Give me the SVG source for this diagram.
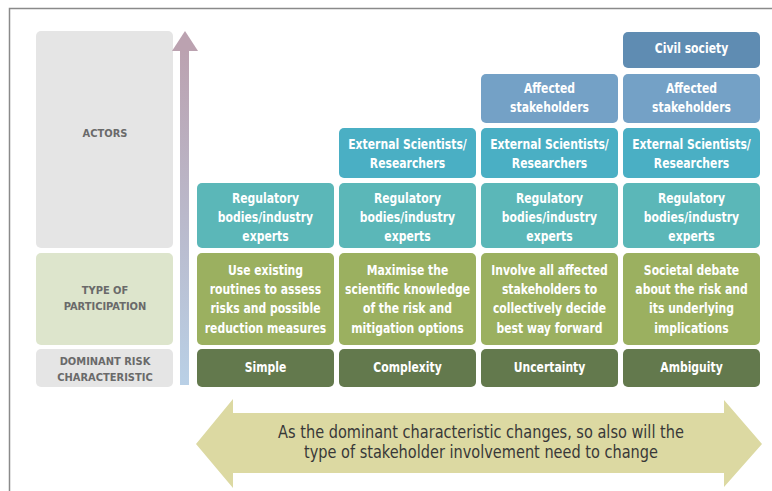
<svg xmlns="http://www.w3.org/2000/svg" width="772" height="491" viewBox="0 0 772 491">
<defs>
<linearGradient id="vg" x1="0" y1="0" x2="0" y2="1">
<stop offset="0" stop-color="#bba2b0"/>
<stop offset="1" stop-color="#b9d0e6"/>
</linearGradient>
<style>
.bt{font-family:"DejaVu Sans Condensed","Liberation Sans",sans-serif;font-weight:bold;font-size:14px;fill:#ffffff;text-anchor:middle}
.lt{font-family:"DejaVu Sans Condensed","Liberation Sans",sans-serif;font-weight:bold;font-size:11px;fill:#6a6a6a;text-anchor:middle}
.at{font-family:"DejaVu Sans Condensed","Liberation Sans",sans-serif;font-size:17px;fill:#383838;text-anchor:middle}
.reg{fill:#5bb7b8}
.ext{fill:#4aafc4}
.aff{fill:#74a1c6}
.civ{fill:#5f8cb2}
.typ{fill:#9bb060}
.dom{fill:#63794d}
</style>
</defs>
<rect width="772" height="491" fill="#ffffff"/>
<path d="M9.5 491 V8.5 H772" fill="none" stroke="#8a8a8a" stroke-width="1.5"/>

<g id="label-actors">
<rect x="36" y="31" width="137" height="217" rx="5" fill="#e5e5e5"/>
<text class="lt" x="105" y="137">ACTORS</text>
</g>
<g id="label-type">
<rect x="36" y="253" width="137" height="92" rx="5" fill="#dde5cc"/>
<text class="lt" x="105" y="294">TYPE OF</text>
<text class="lt" x="105" y="310">PARTICIPATION</text>
</g>
<g id="label-dominant">
<rect x="36" y="349" width="137" height="38" rx="5" fill="#e5e5e5"/>
<text class="lt" x="105" y="365">DOMINANT RISK</text>
<text class="lt" x="105" y="381">CHARACTERISTIC</text>
</g>

<g id="connectors">
<rect x="180" y="50" width="9" height="335" fill="url(#vg)"/>
<polygon points="172,51 185,31 198,51" fill="#bba2b0"/>
<polygon id="double-arrow" points="196,444 233,399 233,413 724,413 724,400 762,444 724,487 724,473 233,473 233,488" fill="#dcd9a2"/>
</g>

<g id="col1-regulatory"><rect class="reg" x="197" y="183" width="137" height="65" rx="5"/><g transform="translate(265.5 0) scale(0.86 1)"><text class="bt" x="0" y="203">Regulatory</text><text class="bt" x="0" y="222">bodies/industry</text><text class="bt" x="0" y="241">experts</text></g></g>
<g id="col1-type"><rect class="typ" x="197" y="253" width="137" height="92" rx="5"/><g transform="translate(265.5 0) scale(0.86 1)"><text class="bt" x="0" y="275">Use existing</text><text class="bt" x="0" y="294">routines to assess</text><text class="bt" x="0" y="313">risks and possible</text><text class="bt" x="0" y="333">reduction measures</text></g></g>
<g id="col1-dominant"><rect class="dom" x="197" y="349" width="137" height="38" rx="5"/><g transform="translate(265.5 0) scale(0.86 1)"><text class="bt" x="0" y="372">Simple</text></g></g>

<g id="col2-external"><rect class="ext" x="339" y="128" width="137" height="50" rx="5"/><g transform="translate(407.5 0) scale(0.86 1)"><text class="bt" x="0" y="149">External Scientists/</text><text class="bt" x="0" y="168">Researchers</text></g></g>
<g id="col2-regulatory"><rect class="reg" x="339" y="183" width="137" height="65" rx="5"/><g transform="translate(407.5 0) scale(0.86 1)"><text class="bt" x="0" y="203">Regulatory</text><text class="bt" x="0" y="222">bodies/industry</text><text class="bt" x="0" y="241">experts</text></g></g>
<g id="col2-type"><rect class="typ" x="339" y="253" width="137" height="92" rx="5"/><g transform="translate(407.5 0) scale(0.86 1)"><text class="bt" x="0" y="275">Maximise the</text><text class="bt" x="0" y="294">scientific knowledge</text><text class="bt" x="0" y="313">of the risk and</text><text class="bt" x="0" y="333">mitigation options</text></g></g>
<g id="col2-dominant"><rect class="dom" x="339" y="349" width="137" height="38" rx="5"/><g transform="translate(407.5 0) scale(0.86 1)"><text class="bt" x="0" y="372">Complexity</text></g></g>

<g id="col3-affected"><rect class="aff" x="481" y="74" width="137" height="49" rx="5"/><g transform="translate(549.5 0) scale(0.86 1)"><text class="bt" x="0" y="93">Affected</text><text class="bt" x="0" y="112">stakeholders</text></g></g>
<g id="col3-external"><rect class="ext" x="481" y="128" width="137" height="50" rx="5"/><g transform="translate(549.5 0) scale(0.86 1)"><text class="bt" x="0" y="149">External Scientists/</text><text class="bt" x="0" y="168">Researchers</text></g></g>
<g id="col3-regulatory"><rect class="reg" x="481" y="183" width="137" height="65" rx="5"/><g transform="translate(549.5 0) scale(0.86 1)"><text class="bt" x="0" y="203">Regulatory</text><text class="bt" x="0" y="222">bodies/industry</text><text class="bt" x="0" y="241">experts</text></g></g>
<g id="col3-type"><rect class="typ" x="481" y="253" width="137" height="92" rx="5"/><g transform="translate(549.5 0) scale(0.86 1)"><text class="bt" x="0" y="275">Involve all affected</text><text class="bt" x="0" y="294">stakeholders to</text><text class="bt" x="0" y="313">collectively decide</text><text class="bt" x="0" y="333">best way forward</text></g></g>
<g id="col3-dominant"><rect class="dom" x="481" y="349" width="137" height="38" rx="5"/><g transform="translate(549.5 0) scale(0.86 1)"><text class="bt" x="0" y="372">Uncertainty</text></g></g>

<g id="col4-civil"><rect class="civ" x="623" y="32" width="137" height="36" rx="5"/><g transform="translate(691.5 0) scale(0.86 1)"><text class="bt" x="0" y="53">Civil society</text></g></g>
<g id="col4-affected"><rect class="aff" x="623" y="74" width="137" height="49" rx="5"/><g transform="translate(691.5 0) scale(0.86 1)"><text class="bt" x="0" y="93">Affected</text><text class="bt" x="0" y="112">stakeholders</text></g></g>
<g id="col4-external"><rect class="ext" x="623" y="128" width="137" height="50" rx="5"/><g transform="translate(691.5 0) scale(0.86 1)"><text class="bt" x="0" y="149">External Scientists/</text><text class="bt" x="0" y="168">Researchers</text></g></g>
<g id="col4-regulatory"><rect class="reg" x="623" y="183" width="137" height="65" rx="5"/><g transform="translate(691.5 0) scale(0.86 1)"><text class="bt" x="0" y="203">Regulatory</text><text class="bt" x="0" y="222">bodies/industry</text><text class="bt" x="0" y="241">experts</text></g></g>
<g id="col4-type"><rect class="typ" x="623" y="253" width="137" height="92" rx="5"/><g transform="translate(691.5 0) scale(0.86 1)"><text class="bt" x="0" y="275">Societal debate</text><text class="bt" x="0" y="294">about the risk and</text><text class="bt" x="0" y="313">its underlying</text><text class="bt" x="0" y="333">implications</text></g></g>
<g id="col4-dominant"><rect class="dom" x="623" y="349" width="137" height="38" rx="5"/><g transform="translate(691.5 0) scale(0.86 1)"><text class="bt" x="0" y="372">Ambiguity</text></g></g>

<g id="arrow-label" transform="translate(481 0) scale(0.95 1)">
<text class="at" x="0" y="438">As the dominant characteristic changes, so also will the</text>
<text class="at" x="0" y="458">type of stakeholder involvement need to change</text>
</g>
</svg>
